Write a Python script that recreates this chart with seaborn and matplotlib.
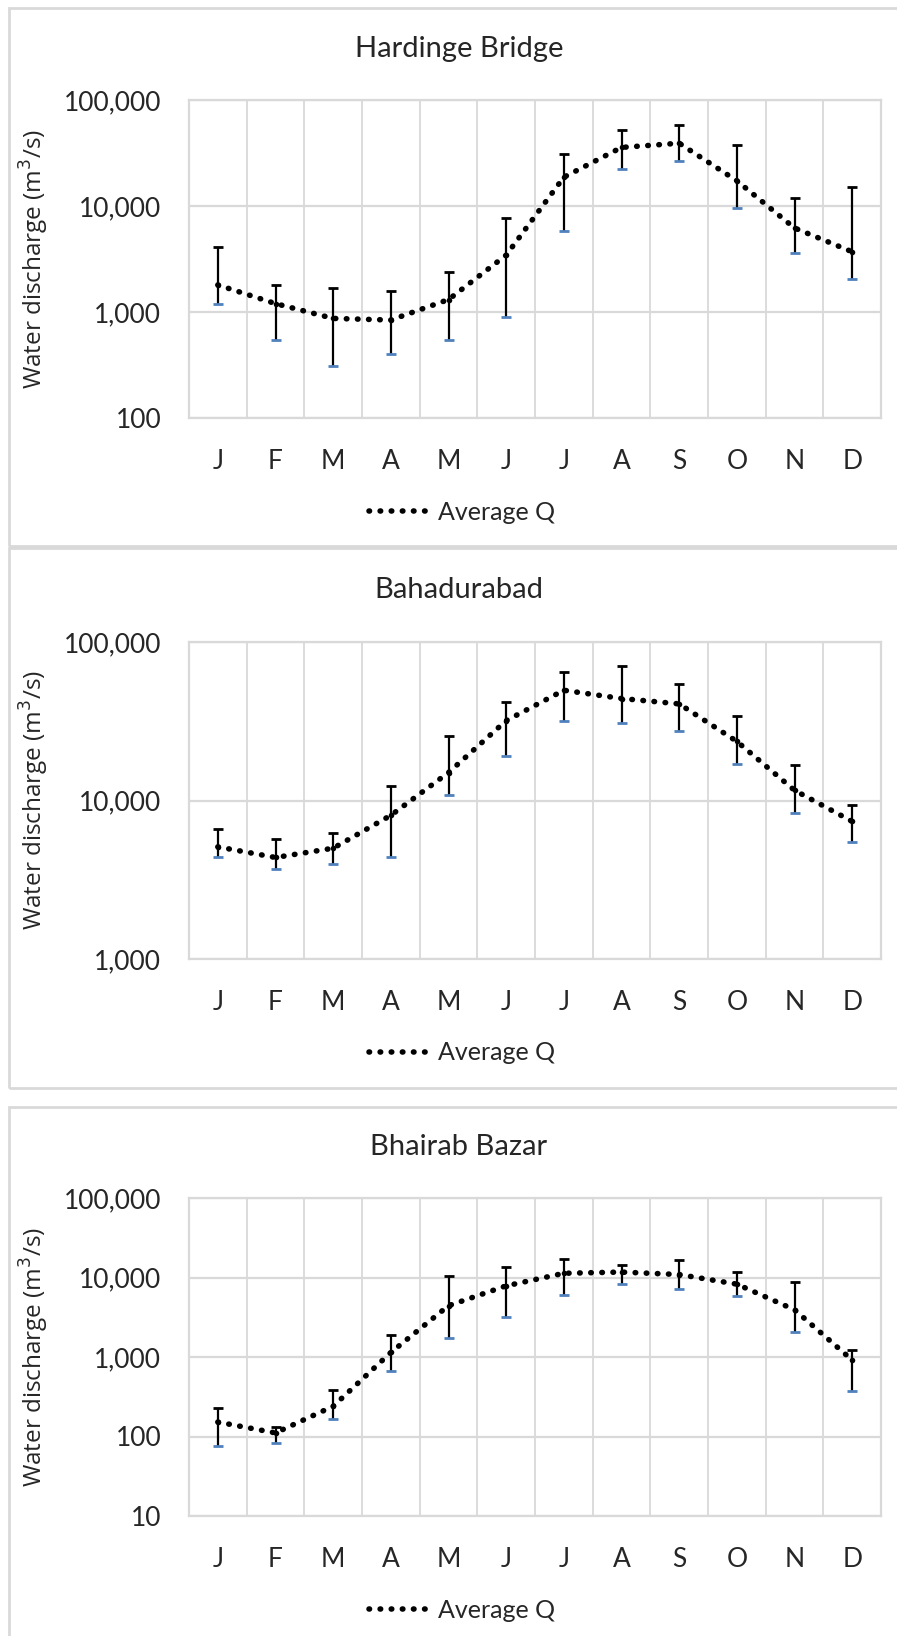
import numpy as np
import pandas as pd
import matplotlib
matplotlib.use('Agg')
import matplotlib.pyplot as plt
import matplotlib.ticker as mticker
from matplotlib.patches import Rectangle
import seaborn as sns

months = ['J', 'F', 'M', 'A', 'M', 'J', 'J', 'A', 'S', 'O', 'N', 'D']

# Hardinge Bridge (m3/s)
hb_mean = [1800, 1200, 870, 840, 1310, 3440, 18700, 35700, 39100, 17300, 6200, 3700]
hb_upper = [4130, 1800, 1690, 1570, 2380, 7660, 30700, 52300, 57800, 38000, 12000, 15100]
hb_lower = [1180, 540, 310, 400, 550, 890, 5860, 22300, 26700, 9600, 3570, 2050]

# Bahadurabad
bb_mean = [5100, 4370, 5000, 8060, 15000, 31900, 49600, 44000, 40700, 23600, 11600, 7380]
bb_upper = [6620, 5730, 6220, 12300, 25700, 42000, 65000, 70300, 54500, 34100, 16700, 9330]
bb_lower = [4410, 3700, 3960, 4410, 10900, 19200, 31900, 30800, 27300, 16900, 8400, 5460]

# Bhairab Bazar
bz_mean = [152, 111, 240, 1140, 4420, 7850, 11300, 11700, 10900, 8250, 3930, 915]
bz_upper = [226, 131, 383, 1870, 10300, 13500, 17000, 14200, 16500, 11700, 8840, 1230]
bz_lower = [77, 82, 165, 673, 1720, 3220, 6000, 8250, 7110, 5830, 2060, 372]

stations = ['Hardinge Bridge', 'Bahadurabad', 'Bhairab Bazar']
ylims = [(100, 100000), (1000, 100000), (10, 100000)]

sns.set_theme(style='white')
plt.rcParams['font.family'] = ['Lato', 'DejaVu Sans']

fig = plt.figure(figsize=(8.97, 16.36), dpi=100)
W, H = 897, 1636
txt_c = '#262626'

# panel frames (px from top)
frames = [(9, 8, 546), (9, 548, 1088), (9, 1107, 1650)]
for x0, y0, y1 in frames:
    fig.patches.append(Rectangle((x0 / W, 1 - y1 / H), (900 - x0) / W, (y1 - y0) / H,
                                 transform=fig.transFigure, fill=False,
                                 edgecolor='#d9d9d9', linewidth=2))

# axes boxes (top, bottom) in px
boxes = [(100, 418), (642, 959), (1198, 1516)]
title_y = [49, 590, 1147]

data = [(hb_mean, hb_lower, hb_upper), (bb_mean, bb_lower, bb_upper),
        (bz_mean, bz_lower, bz_upper)]

grid_c = '#d9d9d9'
for i in range(3):
    top, bot = boxes[i]
    ax = fig.add_axes([189 / W, 1 - bot / H, 692 / W, (bot - top) / H])
    mean, lo, hi = data[i]
    df = pd.DataFrame({'month': np.arange(12), 'Q': mean})

    ax.set_yscale('log')
    ax.vlines(df['month'], lo, hi, color='black', linewidth=1.6, zorder=3)
    ax.scatter(df['month'], hi, marker='_', s=45, color='black', linewidths=2, zorder=4)
    ax.scatter(df['month'], lo, marker='_', s=45, color='#4f81bd', linewidths=2, zorder=4)
    sns.lineplot(data=df, x='month', y='Q', ax=ax, color='black', linewidth=4.0,
                 linestyle=(0, (0.1, 1.9)), dash_capstyle='round',
                 label='Average Q', zorder=5)
    sns.scatterplot(data=df, x='month', y='Q', ax=ax, color='black', s=16,
                    linewidth=0, zorder=6)

    ax.set_xlim(-0.5, 11.5)
    ax.set_ylim(*ylims[i])
    ax.set_xticks(np.arange(12))
    ax.set_xticklabels(months)
    ax.set_xticks(np.arange(-0.5, 12, 1), minor=True)
    ax.yaxis.set_major_locator(mticker.LogLocator(base=10))
    ax.yaxis.set_minor_locator(mticker.NullLocator())
    ax.yaxis.set_major_formatter(mticker.FuncFormatter(lambda v, p: f'{v:,.0f}'))
    ax.grid(False)
    ax.grid(True, which='minor', axis='x', color=grid_c, linewidth=1.3)
    ax.grid(True, which='major', axis='y', color=grid_c, linewidth=1.6)
    ax.tick_params(axis='both', which='both', length=0, labelsize=19, colors=txt_c)
    ax.tick_params(axis='x', pad=22)
    ax.tick_params(axis='y', pad=20)
    for s in ax.spines.values():
        s.set_color(grid_c)
        s.set_linewidth(1.6)
    ax.set_xlabel('')
    ax.set_ylabel('Water discharge (m$^3$/s)', fontsize=17.5,
                  family=['Open Sans', 'DejaVu Sans'], color=txt_c)
    ax.yaxis.set_label_coords(-0.2, 0.5)

    leg_y = -94 / (bot - top)
    ax.legend(loc='center', bbox_to_anchor=((462 - 189) / 692, leg_y), frameon=False,
              fontsize=18, handlelength=2.6, handletextpad=0.2, labelcolor=txt_c)
    fig.text(459 / W, 1 - title_y[i] / H, stations[i], ha='center', va='center',
             fontsize=21, color=txt_c)

fig.savefig('out.png', dpi=100, facecolor='white')
